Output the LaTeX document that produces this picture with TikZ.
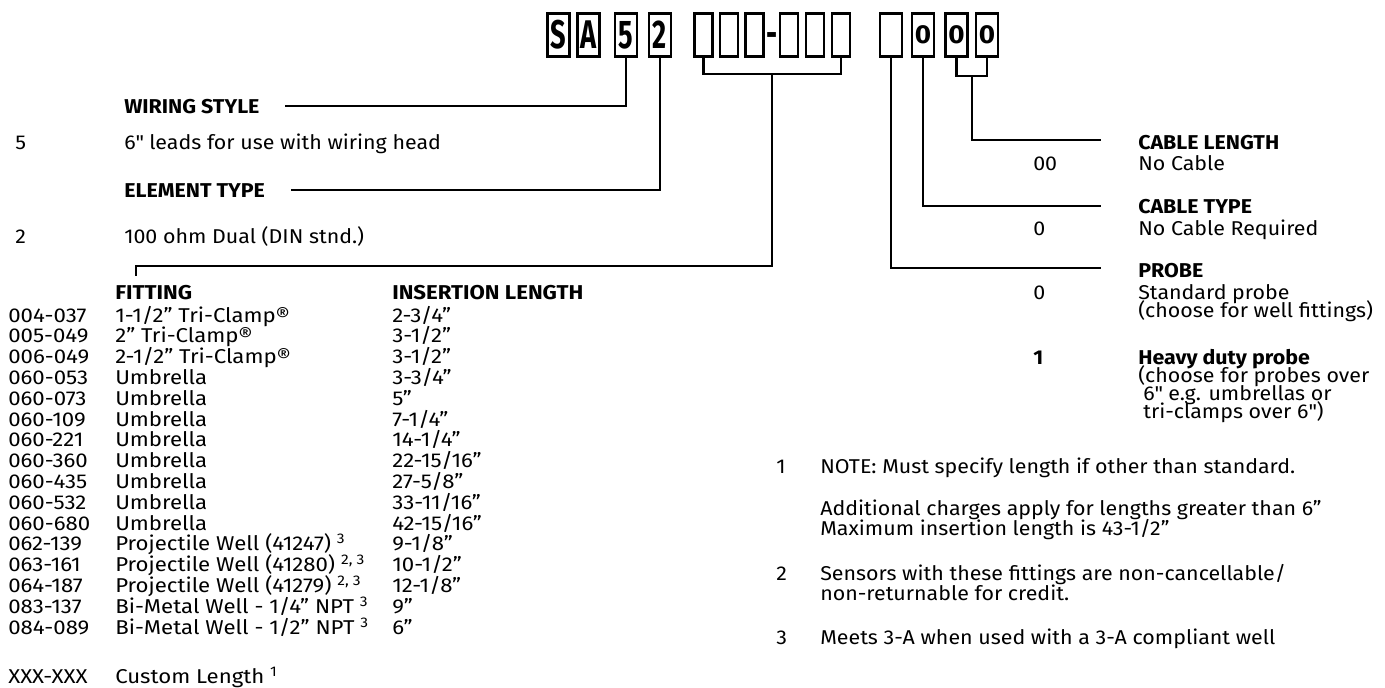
\documentclass[tikz,border=0pt]{standalone}
\usepackage{fontspec}
\setmainfont{Fira Sans}[FakeStretch=1.07]
\newfontfamily\tabfont{Fira Sans}[FakeStretch=1.11]
\newfontfamily\codefont{Fira Sans}[FakeStretch=0.68]
\usetikzlibrary{positioning,calc}

\begin{document}
\begin{tikzpicture}[x=0.75pt, y=-0.75pt,
  codebox/.style={rectangle, draw, line width=2.2pt, minimum width=#1,
                  minimum height=32.25pt, inner sep=0pt,
                  font=\codefont\bfseries\fontsize{30}{30}\selectfont},
  codebox/.default={16.5pt},
  zerobox/.style={codebox, font=\bfseries\fontsize{19.5}{20}\selectfont},
  dashmark/.style={inner sep=0pt, anchor=base,
                   font=\codefont\bfseries\fontsize{30}{30}\selectfont},
  lead/.style={line width=1.6pt},
  txt/.style={anchor=base west, inner sep=0pt, font=\fontsize{15}{18}\selectfont},
  hd/.style={txt, font=\fontsize{15}{18}\selectfont\bfseries},
  tab/.style={txt, font=\tabfont\fontsize{15}{18}\selectfont},
  tabhd/.style={txt, font=\tabfont\fontsize{15}{18}\selectfont\bfseries}
]
  \useasboundingbox (0,0) rectangle (1385,687);

  % part number boxes
  \node[codebox] (s)    at (558.5,35) {S};
  \node[codebox] (a)    at (588.5,35) {A};
  \node[codebox] (wire) at (626,35)   {5};
  \node[codebox] (elem) at (660,35)   {2};
  \node[codebox=13.5pt] (f1) at (703.5,35) {};
  \node[codebox=13.5pt] (f2) at (729,35)   {};
  \node[codebox=13.5pt] (f3) at (754.5,35) {};
  \node[dashmark] (dash) at (772,47) {-};
  \node[codebox=13.5pt] (f4) at (789,35)   {};
  \node[codebox=13.5pt] (f5) at (815,35)   {};
  \node[codebox=13.5pt] (f6) at (841,35)   {};
  \node[codebox] (p1)  at (891,35)   {};
  \node[zerobox] (c1)  at (923,35)   {0};
  \node[zerobox] (l1)  at (956.5,35) {0};
  \node[zerobox] (l2)  at (987,35)   {0};

  % wiring style / element type
  \node[hd]  (wiring)  at (124,113) {WIRING STYLE};
  \node[txt] (wireval) at (15,149)  {5};
  \node[txt] (wiretxt) at (124,149) {6\textquotedbl{} leads for use with wiring head};
  \node[hd]  (element) at (124,197) {ELEMENT TYPE};
  \node[txt] (elemval) at (15,243)  {2};
  \node[txt] (elemtxt) at (124,243) {100 ohm Dual (DIN stnd.)};

  \draw[lead] (wire.south) |- ([xshift=19pt]wiring.east);
  \draw[lead] (elem.south) |- ([xshift=19pt]element.east);

  % fitting table
  \node[tabhd] (fithd) at (115,299) {FITTING};
  \node[tabhd] (inshd) at (392,299) {INSERTION LENGTH};
  \node[tab] (code1)  at (8,322.0) {004-037};  \node[tab] (fit1)  at (115,322.0) {1-1/2” Tri-Clamp®};  \node[tab] (ins1)  at (392,322.0) {2-3/4”};
  \node[tab] (code2)  at (8,342.8) {005-049};  \node[tab] (fit2)  at (115,342.8) {2” Tri-Clamp®};      \node[tab] (ins2)  at (392,342.8) {3-1/2”};
  \node[tab] (code3)  at (8,363.6) {006-049};  \node[tab] (fit3)  at (115,363.6) {2-1/2” Tri-Clamp®};  \node[tab] (ins3)  at (392,363.6) {3-1/2”};
  \node[tab] (code4)  at (8,384.4) {060-053};  \node[tab] (fit4)  at (115,384.4) {Umbrella};           \node[tab] (ins4)  at (392,384.4) {3-3/4”};
  \node[tab] (code5)  at (8,405.2) {060-073};  \node[tab] (fit5)  at (115,405.2) {Umbrella};           \node[tab] (ins5)  at (392,405.2) {5”};
  \node[tab] (code6)  at (8,426.0) {060-109};  \node[tab] (fit6)  at (115,426.0) {Umbrella};           \node[tab] (ins6)  at (392,426.0) {7-1/4”};
  \node[tab] (code7)  at (8,446.8) {060-221};  \node[tab] (fit7)  at (115,446.8) {Umbrella};           \node[tab] (ins7)  at (392,446.8) {14-1/4”};
  \node[tab] (code8)  at (8,467.6) {060-360};  \node[tab] (fit8)  at (115,467.6) {Umbrella};           \node[tab] (ins8)  at (392,467.6) {22-15/16”};
  \node[tab] (code9)  at (8,488.4) {060-435};  \node[tab] (fit9)  at (115,488.4) {Umbrella};           \node[tab] (ins9)  at (392,488.4) {27-5/8”};
  \node[tab] (code10) at (8,509.2) {060-532};  \node[tab] (fit10) at (115,509.2) {Umbrella};           \node[tab] (ins10) at (392,509.2) {33-11/16”};
  \node[tab] (code11) at (8,530.0) {060-680};  \node[tab] (fit11) at (115,530.0) {Umbrella};           \node[tab] (ins11) at (392,530.0) {42-15/16”};
  \node[tab] (code12) at (8,550.8) {062-139};  \node[tab] (fit12) at (115,550.8) {Projectile Well (41247) \textsuperscript{3}};   \node[tab] (ins12) at (392,550.8) {9-1/8”};
  \node[tab] (code13) at (8,571.6) {063-161};  \node[tab] (fit13) at (115,571.6) {Projectile Well (41280) \textsuperscript{2, 3}}; \node[tab] (ins13) at (392,571.6) {10-1/2”};
  \node[tab] (code14) at (8,592.4) {064-187};  \node[tab] (fit14) at (115,592.4) {Projectile Well (41279) \textsuperscript{2, 3}}; \node[tab] (ins14) at (392,592.4) {12-1/8”};
  \node[tab] (code15) at (8,613.2) {083-137};  \node[tab] (fit15) at (115,613.2) {Bi-Metal Well - 1/4” NPT \textsuperscript{3}};  \node[tab] (ins15) at (392,613.2) {9”};
  \node[tab] (code16) at (8,634.0) {084-089};  \node[tab] (fit16) at (115,634.0) {Bi-Metal Well - 1/2” NPT \textsuperscript{3}};  \node[tab] (ins16) at (392,634.0) {6”};
  \node[tab] (codex)  at (8,683)   {XXX-XXX};  \node[tab] (fitx)  at (115,683)   {Custom Length \textsuperscript{1}};

  \coordinate (fitend) at (136,276);
  \draw[lead] (f1.south) -- ++(0,16) -| (f6.south);
  \draw[lead] ($(f1.south)!0.5!(f6.south)+(0,16)$) |- ($(fitend)+(0,-10)$) -- (fitend);

  % cable and probe options
  \node[hd]  (cablelen)  at (1138,149) {CABLE LENGTH};
  \node[txt] (lenval)    at (1033,170) {00};
  \node[txt] (lentxt)    at (1138,170) {No Cable};
  \node[hd]  (cabletype) at (1138,213) {CABLE TYPE};
  \node[txt] (typeval)   at (1033,235) {0};
  \node[txt] (typetxt)   at (1138,235) {No Cable Required};
  \node[hd]  (probe)     at (1138,277) {PROBE};
  \node[txt] (stdval)    at (1033,299) {0};
  \node[txt] (stdtxt)    at (1138,299) {Standard probe};
  \node[txt] (stdnote)   at (1138,317) {(choose for well fittings)};
  \node[hd]  (hdval)     at (1033,364) {1};
  \node[hd]  (hdtxt)     at (1138,364) {Heavy duty probe};
  \node[txt] (hdnote1)   at (1138,382) {(choose for probes over};
  \node[txt] (hdnote2)   at (1138,400) {\hspace{0.25em}6\textquotedbl{} e.g. umbrellas or};
  \node[txt] (hdnote3)   at (1138,418) {\hspace{0.25em}tri-clamps over 6\textquotedbl)};

  \coordinate (lenend)   at (1101,140);
  \coordinate (typeend)  at (1101,206);
  \coordinate (probeend) at (1101,268);
  \draw[lead] (l1.south) -- ++(0,18) -| (l2.south);
  \draw[lead] ($(l1.south)!0.5!(l2.south)+(0,18)$) |- (lenend);
  \draw[lead] (c1.south) |- (typeend);
  \draw[lead] (p1.south) |- (probeend);

  % notes
  \node[txt] (n1)  at (776,473) {1};
  \node[txt] (n1a) at (820,473) {NOTE: Must specify length if other than standard.};
  \node[txt] (n1b) at (820,515) {Additional charges apply for lengths greater than 6”};
  \node[txt] (n1c) at (820,535) {Maximum insertion length is 43-1/2”};
  \node[txt] (n2)  at (776,580) {2};
  \node[txt] (n2a) at (820,580) {Sensors with these fittings are non-cancellable/};
  \node[txt] (n2b) at (820,600) {non-returnable for credit.};
  \node[txt] (n3)  at (776,644) {3};
  \node[txt] (n3a) at (820,644) {Meets 3-A when used with a 3-A compliant well};
\end{tikzpicture}
\end{document}
